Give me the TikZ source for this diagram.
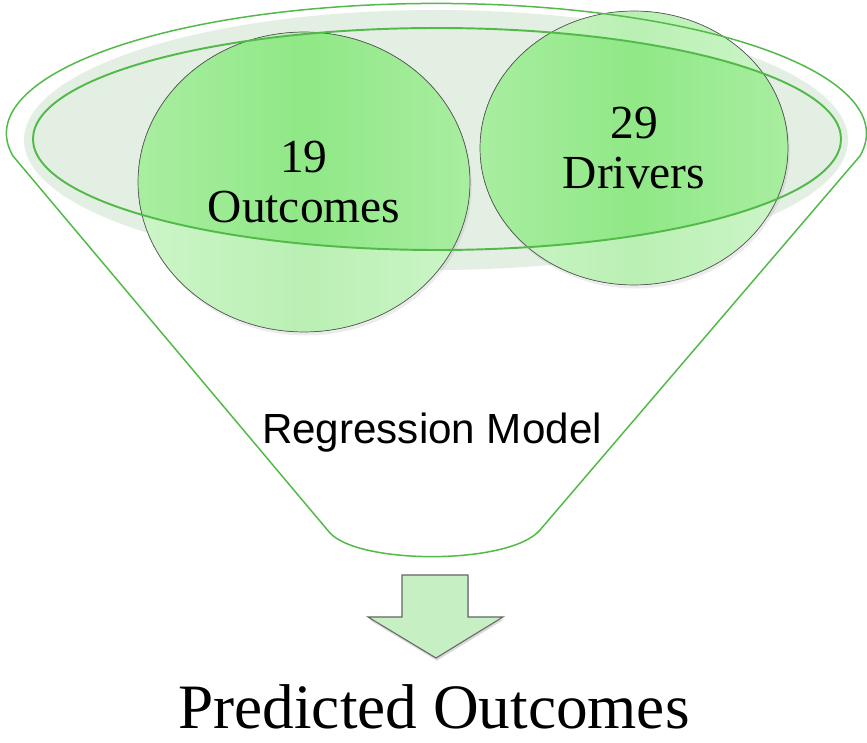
\documentclass[tikz,border=0pt]{standalone}
\usepackage{fontspec}
\setmainfont{Liberation Serif}
\newfontfamily\modelfont{Liberation Sans}
\usetikzlibrary{shapes.geometric}
\usetikzlibrary{shadows}

\definecolor{funnelgreen}{RGB}{82,186,72}
\definecolor{lightedge}{RGB}{204,245,199}
\definecolor{lightmid}{RGB}{186,240,180}
\definecolor{darkedge}{RGB}{168,238,160}
\definecolor{darkmid}{RGB}{144,232,134}
\definecolor{hazegreen}{RGB}{228,239,228}
\definecolor{arrowgreen}{RGB}{198,240,196}

\begin{document}
\begin{tikzpicture}[x=0.02cm,y=-0.02cm,
	funnel/.style={draw=funnelgreen, line width=0.85pt},
	bubblelight/.style={left color=lightedge, right color=lightedge, middle color=lightmid, drop shadow={opacity=0.15, shadow xshift=1pt, shadow yshift=-2pt}},
	bubbledark/.style={left color=darkedge, right color=darkedge, middle color=darkmid},
	bubble/.style={ellipse, draw=gray!70!black, line width=0.4pt, align=center, font=\fontsize{27}{28.5}\selectfont},
	blockarrow/.style={fill=arrowgreen, draw=gray!80!black, line width=0.6pt, line join=miter, drop shadow={opacity=0.3, shadow xshift=0.5pt, shadow yshift=-1.5pt}}]
	
	\useasboundingbox (0,0) rectangle (867,743);
	\fill[hazegreen] (436,140) ellipse [x radius=412, y radius=130];
	
	\fill[bubblelight] (304,182) ellipse [x radius=166, y radius=150];
	\fill[bubblelight] (634,148) ellipse [x radius=154, y radius=137];
	\begin{scope}
		\clip (437,139) ellipse [x radius=404, y radius=111];
		\fill[bubbledark] (304,182) ellipse [x radius=166, y radius=150];
		\fill[bubbledark] (634,148) ellipse [x radius=154, y radius=137];
	\end{scope}
	
	\node[bubble, minimum width=6.64cm, minimum height=6cm] (outcomes) at (304,182) {19\\Outcomes};
	\node[bubble, minimum width=6.16cm, minimum height=5.48cm] (drivers) at (634,148) {29\\Drivers};
	
	\draw[funnel] (330,533) -- (13,156) arc [start angle=170, end angle=370, x radius=430, y radius=130] -- (540,530) .. controls (510,565) and (360,565) .. cycle;
	\draw[funnel, line width=1.1pt] (437,139) ellipse [x radius=404, y radius=111];
	
	\node[font=\modelfont\fontsize{24}{28}\selectfont] (model) at (432,433) {Regression Model};
	
	\draw[blockarrow] (402,575) -- (468,575) -- (468,617) -- (503,617) -- (436,658) -- (368,617) -- (402,617) -- cycle;
	
	\node[font=\fontsize{36}{40}\selectfont, inner sep=0pt] (predicted) at (434,707) {Predicted Outcomes};
\end{tikzpicture}
\end{document}
